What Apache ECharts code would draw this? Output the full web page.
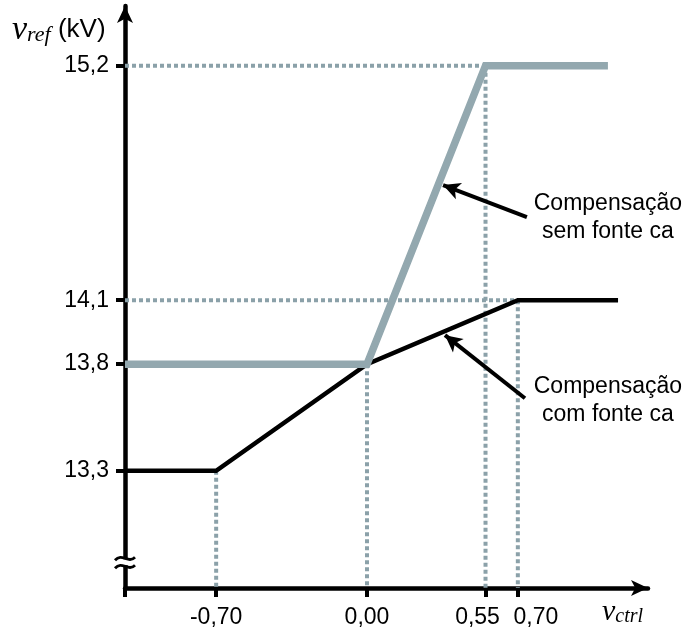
<!DOCTYPE html>
<html>
<head>
<meta charset="utf-8">
<script src="https://cdn.jsdelivr.net/npm/echarts@6/dist/echarts.min.js"></script>
<style>html,body{margin:0;padding:0;background:#fff;}#c{width:687px;height:630px;}</style>
</head>
<body>
<div id="c"></div>
<script>
// ---- data ----
const xRange = [-1.123, 1.304];
const yRange = [12.75, 15.48];
const xTicks = [-0.70, 0.00, 0.55, 0.70];
const yTicks = [13.3, 13.8, 14.1, 15.2];
const grayX = [-1.123, 0.00, 0.55, 1.118];
const grayY = [13.8, 13.8, 15.2, 15.2];
const blackX = [-1.123, -0.70, 0.00, 0.70, 1.165];
const blackY = [13.3, 13.3, 13.8, 14.1, 14.1];
// guide lines: vertical from value down to axis, horizontal from axis to point
const guideVX = [-0.70, 0.00, 0.55, 0.70];
const guideVY = [13.3, 13.8, 15.2, 14.1];
const guideHX = [0.55, 0.70];
const guideHY = [15.2, 14.1];
const labelUpper = ['Compensação', 'sem fonte ca'];
const labelLower = ['Compensação', 'com fonte ca'];
// arrows [tailX, tailY, tipX, tipY]
const arrowUpper = [0.742, 14.49, 0.353, 14.64];
const arrowLower = [0.733, 13.64, 0.362, 13.936];
const textUpperPos = [1.118, 14.485];
const textLowerPos = [1.118, 13.631];
const breakY = 12.871;

const comma = (v, d) => v.toFixed(d).replace('.', ',');
const zip = (xs, ys) => xs.map((x, i) => [x, ys[i]]);

const guideColor = '#8ba1a9';
const series = [];
guideVX.forEach((x, i) => {
  series.push({type: 'line', data: [[x, guideVY[i]], [x, yRange[0]]], symbol: 'none', silent: true,
    lineStyle: {color: guideColor, width: 4, type: [4, 3]}, z: 1});
});
guideHX.forEach((x, i) => {
  series.push({type: 'line', data: [[xRange[0], guideHY[i]], [x, guideHY[i]]], symbol: 'none', silent: true,
    lineStyle: {color: guideColor, width: 4, type: [4, 3]}, z: 1});
});
series.push({type: 'line', data: zip(blackX, blackY), symbol: 'none', silent: true,
  lineStyle: {color: '#000', width: 4.5, join: 'miter'}, z: 2});
series.push({type: 'line', data: zip(grayX, grayY), symbol: 'none', silent: true,
  lineStyle: {color: '#93a8af', width: 7.5, join: 'miter'}, z: 3,
  markLine: {silent: true, symbol: ['none', 'arrow'], symbolSize: [13, 17], label: {show: false},
    lineStyle: {color: '#000', width: 4, type: 'solid'}, emphasis: {disabled: true},
    data: [
      [{coord: [arrowUpper[0], arrowUpper[1]]}, {coord: [arrowUpper[2], arrowUpper[3]]}],
      [{coord: [arrowLower[0], arrowLower[1]]}, {coord: [arrowLower[2], arrowLower[3]]}]
    ]}
});

const chart = echarts.init(document.getElementById('c'), null, {renderer: 'canvas'});
const font = 'Liberation Sans, Arial, sans-serif';
const fs = 23;
chart.setOption({
  animation: false,
  backgroundColor: '#fff',
  grid: {left: 125, right: 39, top: 6, bottom: 42},
  xAxis: {type: 'value', min: xRange[0], max: xRange[1],
    axisLine: {onZero: false, lineStyle: {color: '#000', width: 4.5}, symbol: ['none', 'arrow'], symbolSize: [12, 17]},
    axisTick: {show: true, length: 9, lineStyle: {color: '#000', width: 4}, customValues: [xRange[0]].concat(xTicks)},
    axisLabel: {customValues: xTicks, hideOverlap: false, color: '#000', fontSize: fs, fontFamily: font, margin: 18,
      formatter: v => {
        const s = comma(v, 2);
        if (Math.abs(v - 0.55) < 1e-6) return '{l|' + s + '}';
        if (Math.abs(v - 0.70) < 1e-6) return '{r|' + s + '}';
        return s;
      },
      rich: {
        l: {fontSize: fs, fontFamily: font, color: '#000', padding: [0, 16, 0, 0]},
        r: {fontSize: fs, fontFamily: font, color: '#000', padding: [0, 0, 0, 36]}
      }},
    splitLine: {show: false}},
  yAxis: {type: 'value', min: yRange[0], max: yRange[1],
    axisLine: {onZero: false, lineStyle: {color: '#000', width: 4.5}, symbol: ['none', 'arrow'], symbolSize: [12, 17]},
    axisTick: {show: true, length: 9, lineStyle: {color: '#000', width: 4}, customValues: yTicks},
    axisLabel: {customValues: yTicks, hideOverlap: false, formatter: v => comma(v, 1), color: '#000', fontSize: fs, fontFamily: font, margin: 16},
    splitLine: {show: false}},
  series: series
});

function px(p) { return chart.convertToPixel({gridIndex: 0}, p); }
const up = px(textUpperPos), lo = px(textLowerPos);
const yAxisX = px([xRange[0], breakY]);
const bx = yAxisX[0], by = yAxisX[1];
const origin = px([xRange[0], yRange[0]]);
chart.setOption({
  graphic: [
    {type: 'text', x: up[0], y: up[1], z: 10, style: {text: labelUpper.join('\n'), font: fs + 'px ' + font, fill: '#000', align: 'center', verticalAlign: 'middle', lineHeight: 28}},
    {type: 'text', x: lo[0], y: lo[1], z: 10, style: {text: labelLower.join('\n'), font: fs + 'px ' + font, fill: '#000', align: 'center', verticalAlign: 'middle', lineHeight: 28}},
    {type: 'rect', z: 10, shape: {x: bx - 10, y: by - 3, width: 20, height: 6}, style: {fill: '#fff'}},
    {type: 'bezierCurve', z: 11, shape: {x1: bx - 10, y1: by - 2, cpx1: bx - 3, cpy1: by - 10, cpx2: bx + 3, cpy2: by + 2, x2: bx + 10, y2: by - 5}, style: {stroke: '#000', lineWidth: 2.8, fill: null}},
    {type: 'bezierCurve', z: 11, shape: {x1: bx - 10, y1: by + 6, cpx1: bx - 3, cpy1: by - 2, cpx2: bx + 3, cpy2: by + 10, x2: bx + 10, y2: by + 3}, style: {stroke: '#000', lineWidth: 2.8, fill: null}},
    {type: 'text', x: 12, y: 30, z: 10, style: {
      text: '{v|v}{s|ref}{k| (kV)}', verticalAlign: 'middle',
      rich: {
        v: {font: 'italic 34px Liberation Serif, serif', fill: '#000'},
        s: {font: 'italic 22px Liberation Serif, serif', fill: '#000', padding: [11, 0, 0, 0]},
        k: {font: '26px ' + font, fill: '#000'}
      }}},
    {type: 'text', x: origin[0] + 477, y: origin[1] + 24, z: 10, style: {
      text: '{v|v}{s|ctrl}', verticalAlign: 'middle',
      rich: {
        v: {font: 'italic 30px Liberation Serif, serif', fill: '#000'},
        s: {font: 'italic 20px Liberation Serif, serif', fill: '#000', padding: [10, 0, 0, 0]}
      }}}
  ]
});
</script>
</body>
</html>
